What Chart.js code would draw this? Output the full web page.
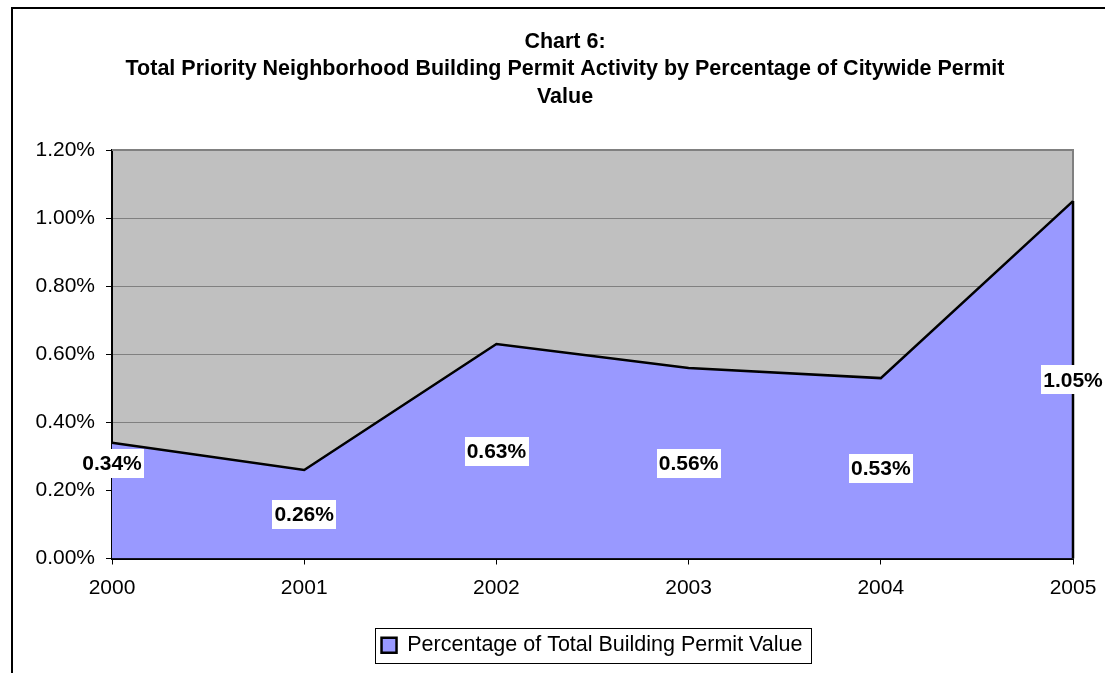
<!DOCTYPE html>
<html>
<head>
<meta charset="utf-8">
<script src="https://cdn.jsdelivr.net/npm/chart.js@4/dist/chart.umd.min.js"></script>
<style>
  html, body { margin: 0; padding: 0; background: #ffffff; }
  #wrap { width: 1105px; height: 673px; position: relative; }
</style>
</head>
<body>
<div id="wrap"><canvas id="c" width="1105" height="673"></canvas></div>
<script>
// ---- Data ----
const categories = ['2000', '2001', '2002', '2003', '2004', '2005'];
const seriesName = 'Percentage of Total Building Permit Value';
const seriesValues = [0.34, 0.26, 0.63, 0.56, 0.53, 1.05];   // percent
const yTicks = [0, 0.2, 0.4, 0.6, 0.8, 1.0, 1.2];
const titleLines = [
  'Chart 6:',
  'Total Priority Neighborhood Building Permit Activity by Percentage of Citywide Permit',
  'Value'
];

const FONT = "'Liberation Sans', Arial, Helvetica, sans-serif";
Chart.defaults.font.family = FONT;
Chart.defaults.color = '#000000';

const framePlugin = {
  id: 'frame',
  afterLayout(chart, args, opts) {
    // horizontal centring of title and legend as in the original
    const tb = chart.titleBlock;
    if (tb) {
      const d = opts.titleCenter - (tb.left + tb.right) / 2;
      tb.left += d; tb.right += d;
    }
    const lg = chart.legend;
    if (lg) {
      const d = opts.legendCenter - (lg.left + lg.right) / 2;
      lg.left += d; lg.right += d;
    }
  },
  beforeDraw(chart) {
    const ctx = chart.ctx;
    const a = chart.chartArea;
    ctx.save();
    ctx.fillStyle = '#ffffff';
    ctx.fillRect(0, 0, chart.width, chart.height);
    // outer frame (top + left)
    ctx.fillStyle = '#000000';
    ctx.fillRect(11, 7, chart.width - 11, 2);
    ctx.fillRect(11, 7, 2, chart.height - 7);
    // plot area background
    ctx.fillStyle = '#C0C0C0';
    ctx.fillRect(a.left, a.top, a.right - a.left, a.bottom - a.top);
    ctx.restore();
  },
  beforeDatasetsDraw(chart) {
    const ctx = chart.ctx;
    const a = chart.chartArea;
    ctx.save();
    ctx.strokeStyle = '#808080';
    ctx.lineWidth = 2;
    ctx.beginPath();
    ctx.moveTo(a.left, a.top);
    ctx.lineTo(a.right, a.top);
    ctx.lineTo(a.right, a.bottom);
    ctx.stroke();
    ctx.restore();
  },
  afterDatasetsDraw(chart, args, opts) {
    const ctx = chart.ctx;
    const meta = chart.getDatasetMeta(0);
    const ys = chart.scales.y;
    const pts = meta.data;
    const base = ys.getPixelForValue(0);
    ctx.save();
    // right edge of the area
    ctx.strokeStyle = '#000000';
    ctx.lineWidth = 2.5;
    ctx.beginPath();
    ctx.moveTo(pts[pts.length - 1].x, pts[pts.length - 1].y);
    ctx.lineTo(pts[pts.length - 1].x, base);
    ctx.stroke();
    // data labels
    ctx.font = 'bold 21px ' + FONT;
    ctx.textAlign = 'center';
    ctx.textBaseline = 'middle';
    const vals = chart.data.datasets[0].data;
    vals.forEach((v, i) => {
      const frac = (opts.fractions && opts.fractions[i] != null) ? opts.fractions[i] : 0.5;
      const x = pts[i].x;
      const y = ys.getPixelForValue(v * frac);
      const txt = v.toFixed(2) + '%';
      const w = ctx.measureText(txt).width + 4;
      const h = 29;
      ctx.fillStyle = '#ffffff';
      ctx.fillRect(Math.round(x - w / 2), Math.round(y - h / 2), Math.round(w), h);
      ctx.fillStyle = '#000000';
      ctx.fillText(txt, x, y + 1);
    });
    ctx.restore();
  },
  afterDraw(chart) {
    const lg = chart.legend;
    if (!lg || !lg.legendHitBoxes || !lg.legendHitBoxes.length) return;
    const hb = lg.legendHitBoxes[0];
    const ctx = chart.ctx;
    const cy = hb.top + hb.height / 2;
    ctx.save();
    ctx.strokeStyle = '#000000';
    ctx.lineWidth = 1;
    ctx.strokeRect(Math.round(hb.left - 7) + 0.5, Math.round(cy - 17.5) + 0.5,
                   Math.round(hb.width + 15), 35);
    ctx.restore();
  }
};

new Chart(document.getElementById('c'), {
  type: 'line',
  data: {
    labels: categories,
    datasets: [{
      label: seriesName,
      data: seriesValues,
      fill: 'origin',
      backgroundColor: '#9999FF',
      borderColor: '#000000',
      borderWidth: 2.5,
      pointRadius: 0,
      tension: 0
    }]
  },
  options: {
    responsive: false,
    animation: false,
    devicePixelRatio: 1,
    layout: { padding: { top: 28, left: 0, right: 32, bottom: 7 } },
    plugins: {
      title: {
        display: true,
        text: titleLines,
        color: '#000000',
        font: { family: FONT, size: 21.5, weight: 'bold', lineHeight: 1.28 },
        padding: { top: 0, bottom: 39.5 }
      },
      legend: {
        display: true,
        position: 'bottom',
        labels: {
          color: '#000000',
          font: { family: FONT, size: 21.5 },
          boxWidth: 15,
          boxHeight: 15,
          padding: 10
        }
      },
      tooltip: { enabled: false },
      frame: { fractions: [0.82], titleCenter: 565, legendCenter: 592 }
    },
    scales: {
      x: {
        type: 'category',
        offset: false,
        afterFit(s) {
          s.height = 66;
          s.paddingLeft = 0;
          s.paddingRight = 0;
        },
        grid: {
          display: true,
          drawOnChartArea: false,
          drawTicks: true,
          tickLength: 6,
          tickColor: '#000000',
          color: '#000000'
        },
        border: { display: true, color: '#000000', width: 2 },
        ticks: {
          color: '#000000',
          font: { family: FONT, size: 21 },
          padding: 11,
          maxRotation: 0,
          autoSkip: false
        }
      },
      y: {
        min: 0,
        max: 1.2,
        afterFit(s) { s.width = 112; },
        afterBuildTicks(s) { s.ticks = yTicks.map(v => ({ value: v })); },
        grid: {
          display: true,
          color: '#808080',
          lineWidth: 1,
          drawTicks: true,
          tickLength: 6,
          tickColor: '#000000'
        },
        border: { display: true, color: '#000000', width: 2 },
        ticks: {
          color: '#000000',
          font: { family: FONT, size: 21 },
          padding: 11,
          callback: (v) => Number(v).toFixed(2) + '%'
        }
      }
    }
  },
  plugins: [framePlugin]
});
</script>
</body>
</html>
